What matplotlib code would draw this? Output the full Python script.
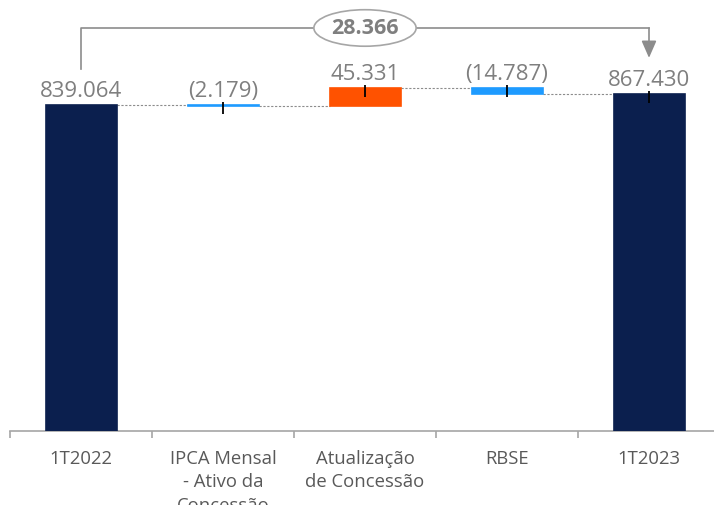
import matplotlib
matplotlib.use("Agg")
import matplotlib.pyplot as plt
import matplotlib.transforms as mtransforms
from matplotlib.patches import Ellipse

plt.rcParams["font.family"] = ["Open Sans", "DejaVu Sans"]

# ---- data (R$ mil) ---------------------------------------------------------
CATEGORIES = ["1T2022", "IPCA Mensal\n- Ativo da\nConcessão",
              "Atualização\nde Concessão", "RBSE", "1T2023"]
START_TOTAL = 839064
DELTAS = [-2179, 45331, -14787]
END_TOTAL = 867430

NAVY = "#0b1f4e"
ORANGE = "#ff5200"
BLUE = "#1e9bff"
GRAY_TXT = "#7f7f7f"
LABEL_TXT = "#595959"
LINE_GRAY = "#8c8c8c"


def br(v):
    """Brazilian thousands format, negatives in parentheses."""
    s = f"{abs(v):,.0f}".replace(",", ".")
    return f"({s})" if v < 0 else s


fig = plt.figure(figsize=(7.14, 5.06), dpi=100)
ax = fig.add_axes([10 / 714, 74 / 506, 710 / 714, 432 / 506])

# bottoms / tops of every bar
bottoms, heights, colors, values = [0], [START_TOTAL], [NAVY], [START_TOTAL]
level = START_TOTAL
for d in DELTAS:
    bottoms.append(level if d >= 0 else level + d)
    heights.append(abs(d))
    colors.append(ORANGE if d >= 0 else BLUE)
    values.append(d)
    level += d
bottoms.append(0)
heights.append(END_TOTAL)
colors.append(NAVY)
values.append(END_TOTAL)

xs = list(range(len(CATEGORIES)))
ax.bar(xs, heights, bottom=bottoms, width=0.5, color=colors,
       edgecolor=colors, linewidth=1.2, zorder=3)

# dotted connectors between consecutive bars
levels = [START_TOTAL]
lv = START_TOTAL
for d in DELTAS:
    lv += d
    levels.append(lv)
for i, lv in enumerate(levels):
    ax.plot([i + 0.25, i + 0.75], [lv, lv], color=LINE_GRAY,
            lw=0.8, ls=(0, (2, 1.5)), zorder=2)

# value labels above each bar
px_down = mtransforms.ScaledTranslation(0, -2 / 72, fig.dpi_scale_trans)
for i, (b, h, v) in enumerate(zip(bottoms, heights, values)):
    top = b + h
    ax.annotate(br(v), (i, top), xytext=(0, 6.5), textcoords="offset points",
                ha="center", va="baseline", fontsize=16, color=GRAY_TXT)
    if i > 0:
        ax.plot([i], [top], marker="|", ms=8, mew=1.3, color="black",
                transform=ax.transData + px_down, zorder=4)

# bracket showing the net change between the two totals
delta = END_TOTAL - START_TOTAL
y_br = max(START_TOTAL, END_TOTAL) + 170000
ax.plot([0, 0, xs[-1]], [START_TOTAL + 93000, y_br, y_br],
        color=LINE_GRAY, lw=1.2, zorder=2, clip_on=False)
ax.annotate("", xy=(xs[-1], END_TOTAL + 93000), xytext=(xs[-1], y_br),
            arrowprops=dict(arrowstyle="-|>,head_length=0.8,head_width=0.35",
                            color=LINE_GRAY, lw=1.2, shrinkA=0, shrinkB=0,
                            mutation_scale=13), zorder=2)
ax.add_patch(Ellipse((2, y_br), 0.72, 94000, facecolor="white",
                     edgecolor="#a6a6a6", lw=1.2, zorder=5, clip_on=False))
ax.text(2, y_br, br(delta), ha="center", va="center", fontsize=15.5,
        fontweight="bold", color=GRAY_TXT, zorder=6)

# axes: only the baseline with boundary ticks
ax.set_xlim(-0.5, len(CATEGORIES) - 0.5)
ax.set_ylim(0, 1112000)
for s in ["top", "left", "right"]:
    ax.spines[s].set_visible(False)
ax.spines["bottom"].set_color("#a6a6a6")
ax.spines["bottom"].set_linewidth(1.2)
ax.set_yticks([])
ax.set_xticks([i - 0.5 for i in range(len(CATEGORIES) + 1)])
ax.set_xticklabels([])
ax.tick_params(axis="x", which="major", length=5, width=1.2, color="#a6a6a6")
ax.set_xticks(xs, minor=True)
ax.set_xticklabels(CATEGORIES, minor=True, fontsize=13.3, color=LABEL_TXT,
                   linespacing=1.38)
ax.tick_params(axis="x", which="minor", length=0, pad=13)

fig.savefig("out.png", dpi=100)
